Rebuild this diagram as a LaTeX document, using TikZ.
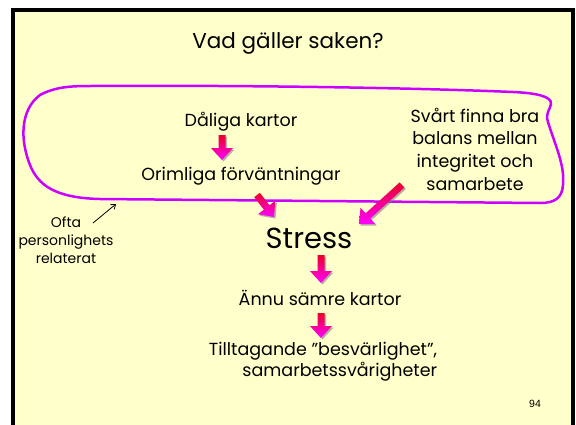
\documentclass[tikz,border=0pt]{standalone}
\usepackage{fontspec}
\setmainfont{Poppins}
\newfontfamily\numfont{Liberation Sans}
\usetikzlibrary{calc,arrows.meta}
\definecolor{cream}{RGB}{255,255,204}
\definecolor{loopc}{RGB}{204,0,255}
\definecolor{ared}{RGB}{235,0,40}
\definecolor{amag}{RGB}{255,0,255}
\newcommand\blockarrow[2]{%
  \coordinate (#1h) at ($(#2)!12pt!(#1)$);
  \fill[black!50, opacity=0.6, transform canvas={shift={(1.5pt,-1.5pt)}}]
    ($(#1)!3.5pt!90:(#2)$) -- ($(#1h)!3.5pt!90:(#2)$) -- ($(#1h)!11pt!90:(#2)$) -- (#2)
    -- ($(#1h)!11pt!-90:(#2)$) -- ($(#1h)!3.5pt!-90:(#2)$) -- ($(#1)!3.5pt!-90:(#2)$) -- cycle;
  \shade[top color=ared, bottom color=amag]
    ($(#1)!3.5pt!90:(#2)$) -- ($(#1h)!3.5pt!90:(#2)$) -- ($(#1h)!11pt!90:(#2)$) -- (#2)
    -- ($(#1h)!11pt!-90:(#2)$) -- ($(#1h)!3.5pt!-90:(#2)$) -- ($(#1)!3.5pt!-90:(#2)$) -- cycle;
}
\tikzset{
  txt/.style={inner sep=0pt, align=center, font=\fontsize{17.5}{22.7}\selectfont},
  small/.style={inner sep=0pt, align=center, font=\fontsize{14}{18}\selectfont},
}
\begin{document}
\begin{tikzpicture}[x=1pt,y=-1pt]
\useasboundingbox (0,0) rectangle (576,424);
\clip (0,0) rectangle (576,424);
\fill[white] (0,0) rectangle (576,424);
\filldraw[fill=cream, draw=black, line width=4pt] (13,10) rectangle (573,440);

% loop
\draw[loopc, line width=2.5pt]
  (90,86) .. controls (250,85) and (420,88) .. (513,92)
  .. controls (535,93) and (552,96) .. (551,104)
  .. controls (550,110) and (545,113) .. (548,122)
  .. controls (555,145) and (565,165) .. (563,185)
  .. controls (562,198) and (555,203) .. (540,203)
  -- (100,199)
  .. controls (55,198) and (38,185) .. (30,165)
  .. controls (20,140) and (20,110) .. (40,95)
  .. controls (55,87) and (70,86) .. (90,86) -- cycle;

\node[inner sep=0pt, font=\fontsize{21.5}{24}\selectfont] (title) at (288,43) {Vad gäller saken?};
\node[txt] (dk) at (241,122) {Dåliga kartor};
\node[txt] (of) at (241,176) {Orimliga förväntningar};
\node[txt] (sv) at (475,149) {Svårt finna bra\\balans mellan\\integritet och\\samarbete};
\node[inner sep=0pt, font=\fontsize{29}{32}\selectfont] (st) at (309,238) {Stress};
\node[txt] (an) at (320,298) {Ännu sämre kartor};
\node[txt, align=right, font=\fontsize{17.5}{21}\selectfont] (ti) at (323,362) {Tilltagande ”besvärlighet”,\\samarbetssvårigheter};
\node[small] (ofta) at (66,240) {Ofta\\personlighets\\relaterat};
\node[inner sep=0pt, font=\numfont\fontsize{10.5}{12}\selectfont] (n94) at (535,404) {94};

% block arrows
\coordinate (a1s) at (222,135); \coordinate (a1e) at (222,160);
\coordinate (a2s) at (257,195); \coordinate (a2e) at (274,217);
\coordinate (a3s) at (402,185); \coordinate (a3e) at (359,224);
\coordinate (a4s) at (321,255); \coordinate (a4e) at (321,283);
\coordinate (a5s) at (321,313); \coordinate (a5e) at (321,338);
\blockarrow{a1s}{a1e}
\blockarrow{a2s}{a2e}
\blockarrow{a3s}{a3e}
\blockarrow{a4s}{a4e}
\blockarrow{a5s}{a5e}

% small arrow
\coordinate (sa) at (93,223); \coordinate (sb) at (116,204);
\draw[line width=0.8pt, -{Straight Barb[length=4pt,width=6pt]}] (sa) -- (sb);
\end{tikzpicture}
\end{document}
